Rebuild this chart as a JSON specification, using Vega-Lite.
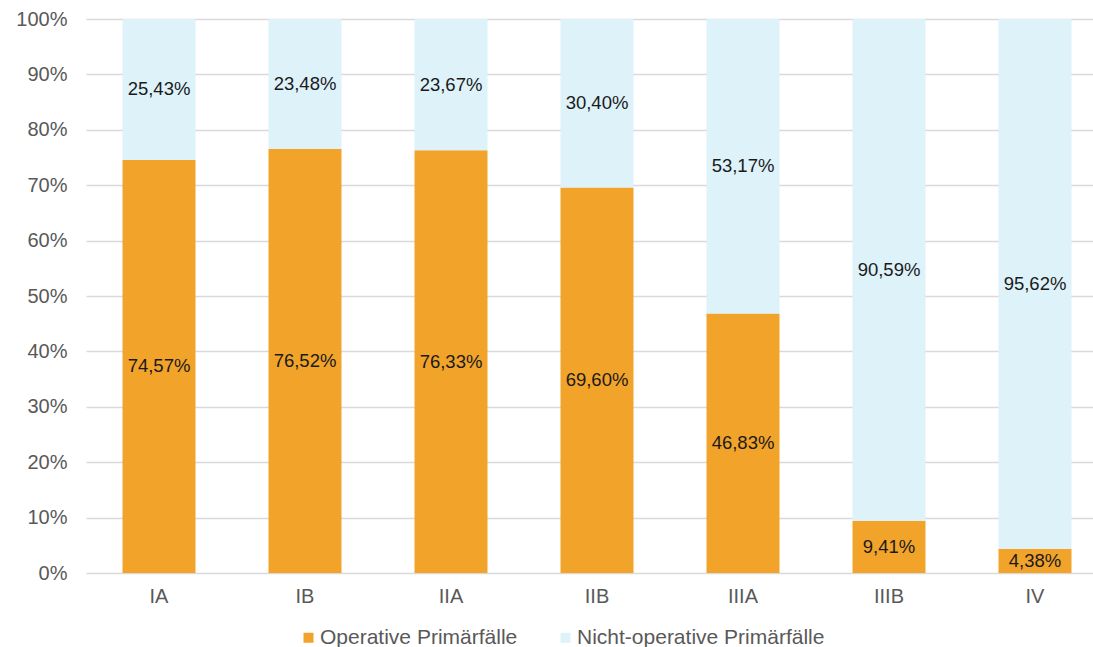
{
  "$schema": "https://vega.github.io/schema/vega-lite/v6.json",
  "autosize": {"type": "none"},
  "padding": {"left": 86, "top": 19, "right": 0, "bottom": 74},
  "width": 1022,
  "height": 554,
  "background": "white",
  "config": {
    "view": {"stroke": null},
    "font": "Liberation Sans",
    "locale": {"number": {"decimal": ",", "thousands": ".", "grouping": [3], "currency": ["", " €"]}}
  },
  "data": {
    "values": [
      {"stadium": "IA", "series": "Operative Primärfälle", "value": 0.7457},
      {"stadium": "IA", "series": "Nicht-operative Primärfälle", "value": 0.2543},
      {"stadium": "IB", "series": "Operative Primärfälle", "value": 0.7652},
      {"stadium": "IB", "series": "Nicht-operative Primärfälle", "value": 0.2348},
      {"stadium": "IIA", "series": "Operative Primärfälle", "value": 0.7633},
      {"stadium": "IIA", "series": "Nicht-operative Primärfälle", "value": 0.2367},
      {"stadium": "IIB", "series": "Operative Primärfälle", "value": 0.6960},
      {"stadium": "IIB", "series": "Nicht-operative Primärfälle", "value": 0.3040},
      {"stadium": "IIIA", "series": "Operative Primärfälle", "value": 0.4683},
      {"stadium": "IIIA", "series": "Nicht-operative Primärfälle", "value": 0.5317},
      {"stadium": "IIIB", "series": "Operative Primärfälle", "value": 0.0941},
      {"stadium": "IIIB", "series": "Nicht-operative Primärfälle", "value": 0.9059},
      {"stadium": "IV", "series": "Operative Primärfälle", "value": 0.0438},
      {"stadium": "IV", "series": "Nicht-operative Primärfälle", "value": 0.9562}
    ]
  },
  "encoding": {
    "x": {
      "field": "stadium", "type": "nominal", "sort": null, "title": null,
      "scale": {"paddingInner": 0.5, "paddingOuter": 0.25},
      "axis": {"labelAngle": 0, "domain": false, "ticks": false, "labelFontSize": 20, "labelColor": "#595959", "labelPadding": 13, "labelFont": "Liberation Sans"}
    },
    "y": {
      "field": "value", "type": "quantitative", "stack": "zero", "title": null,
      "scale": {"domain": [0, 1], "nice": false},
      "axis": {"values": [0, 0.1, 0.2, 0.3, 0.4, 0.5, 0.6, 0.7, 0.8, 0.9, 1], "format": ".0%", "domain": false, "ticks": false, "labelFontSize": 20, "labelColor": "#595959", "labelPadding": 19, "gridColor": "#d9d9d9", "gridWidth": 1.5, "labelFont": "Liberation Sans"}
    },
    "order": {"field": "series", "sort": "descending"}
  },
  "layer": [
    {
      "mark": {"type": "bar"},
      "encoding": {
        "color": {
          "field": "series", "type": "nominal", "title": null,
          "scale": {"domain": ["Operative Primärfälle", "Nicht-operative Primärfälle"], "range": ["#f2a32a", "#def2fa"]},
          "legend": {
            "orient": "none", "legendX": 212, "legendY": 608, "direction": "horizontal",
            "symbolType": "square", "symbolSize": 100, "symbolStrokeWidth": 0,
            "labelFontSize": 21, "labelColor": "#595959", "labelOffset": 1, "columnPadding": 37,
            "labelFont": "Liberation Sans", "labelLimit": 400
          }
        }
      }
    },
    {
      "mark": {"type": "text", "fontSize": 18.5, "color": "#1a1a1a", "font": "Liberation Sans", "baseline": "middle"},
      "encoding": {
        "y": {"field": "value", "type": "quantitative", "stack": "zero", "bandPosition": 0.5},
        "text": {"field": "value", "type": "quantitative", "format": ".2%"}
      }
    }
  ]
}
